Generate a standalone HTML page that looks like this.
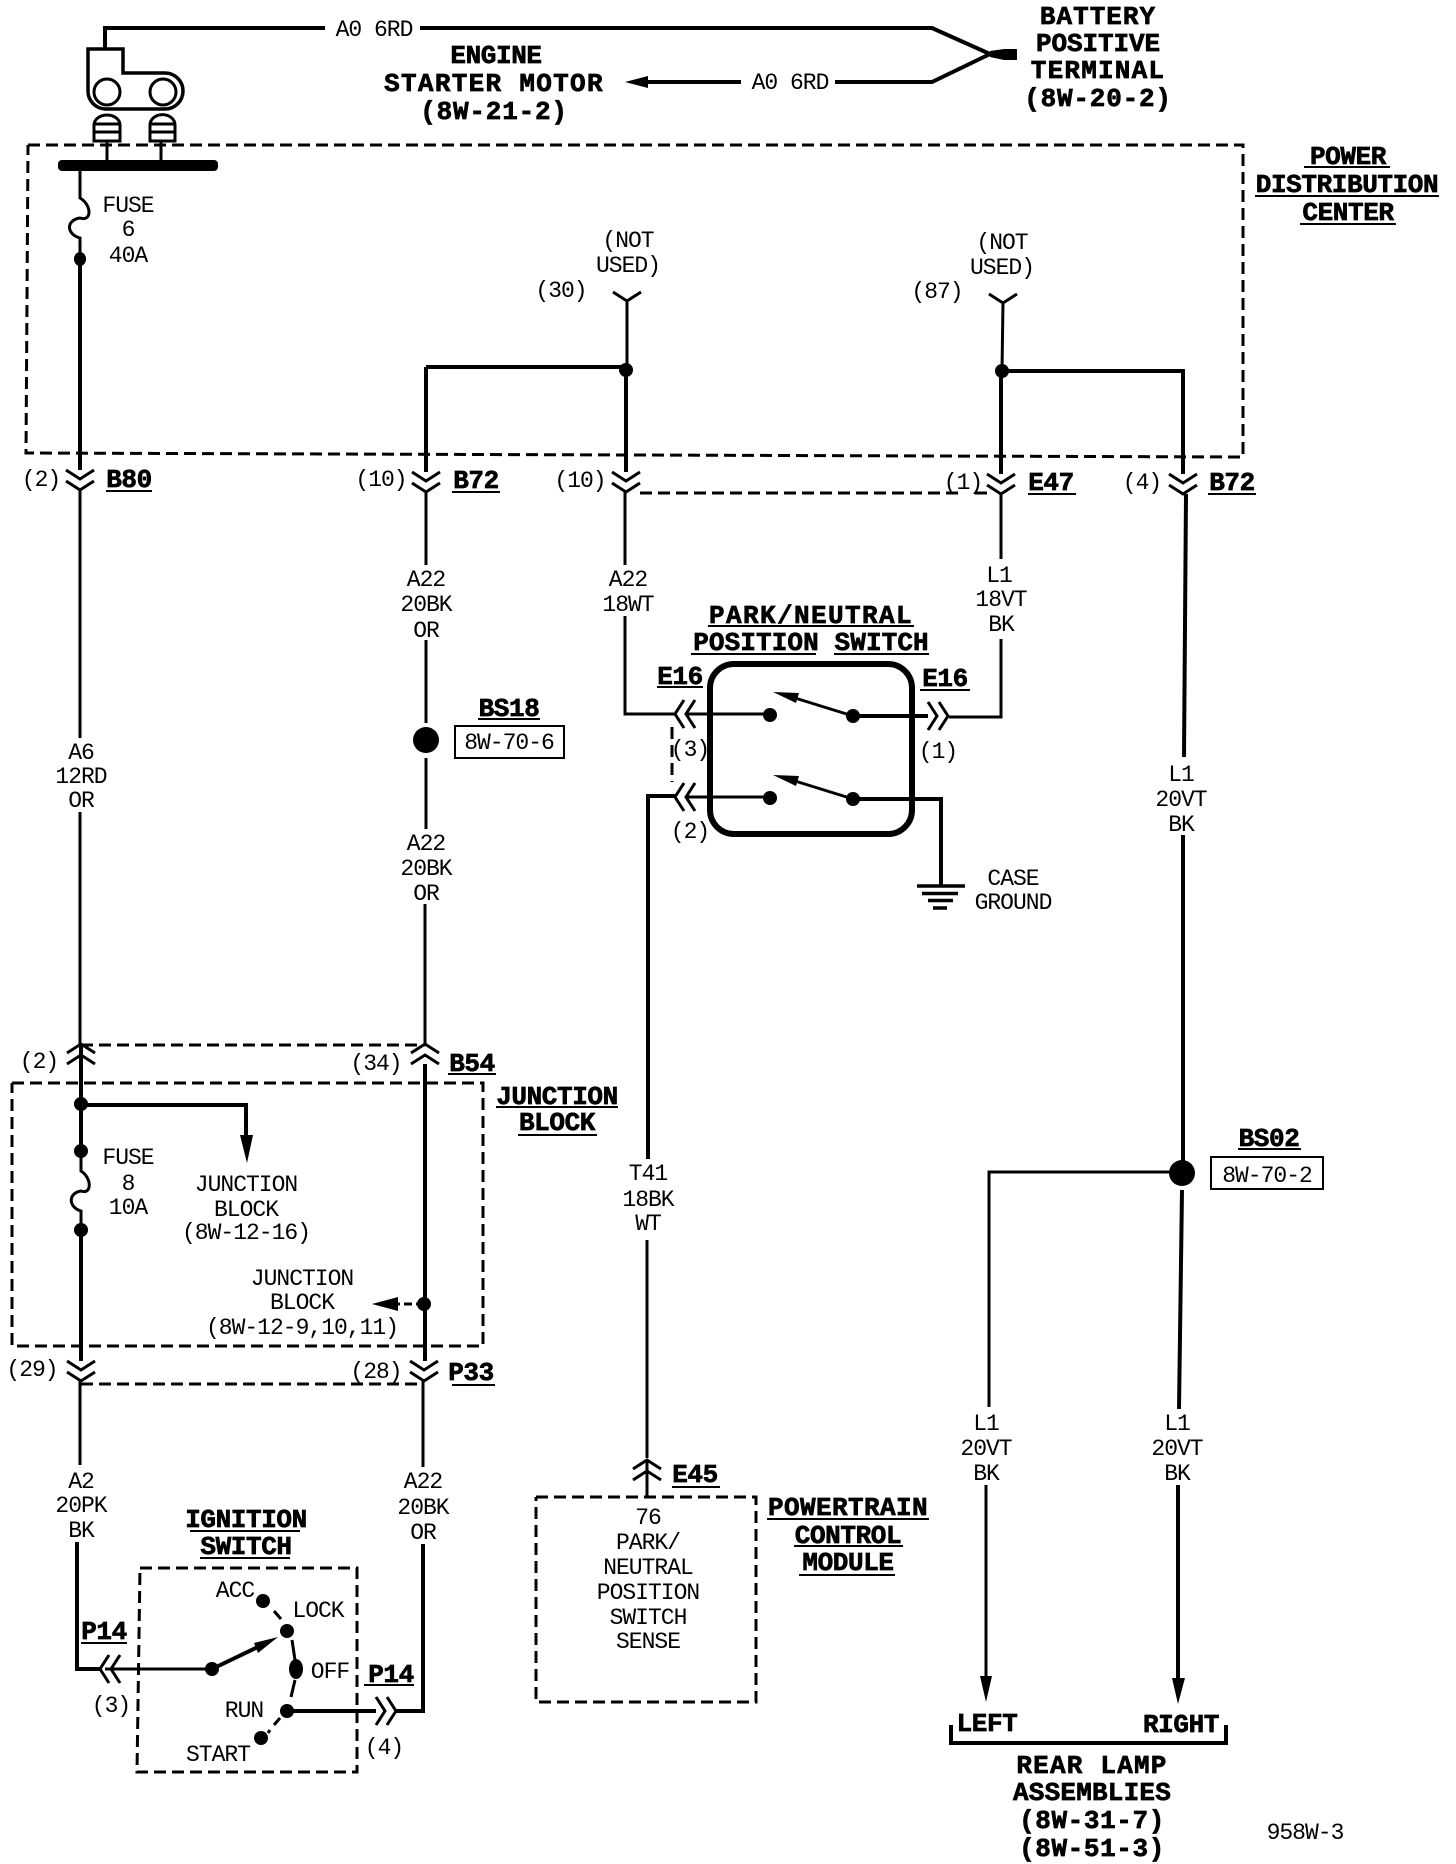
<!DOCTYPE html>
<html><head><meta charset="utf-8"><style>
html,body{margin:0;padding:0;background:#fff}
svg{display:block}
text{font-family:"Liberation Mono",monospace;fill:#000;text-anchor:middle}
.r{font-size:23px;letter-spacing:-1px}
.b{font-size:26px;font-weight:bold;letter-spacing:-.4px;stroke:#000;stroke-width:.7}
.w{fill:none;stroke:#000;stroke-width:3}
.t{fill:none;stroke:#000;stroke-width:4}
.d{fill:none;stroke:#000;stroke-width:3;stroke-dasharray:12 6}
.u{stroke:#000;stroke-width:2;fill:none}
</style></head><body>
<svg width="1456" height="1864" viewBox="0 0 1456 1864" xmlns="http://www.w3.org/2000/svg">
<defs>
<path id="c" d="M-14 0L0 9L14 0M-14 11L0 20L14 11" fill="none" stroke="#000" stroke-width="3"/>
<path id="y" d="M-14 -8L0 1L14 -8" fill="none" stroke="#000" stroke-width="3"/>
</defs>
<rect width="1456" height="1864" fill="#fff"/>

<!-- top wires -->
<path class="t" d="M105 49V28H325M420 28H932L990 54M835 82H932L990 54"/>
<path d="M990 51L1004 49H1017V60H1004L990 57Z"/>
<path class="t" d="M741 82H640"/>
<path d="M625 82L648 76V88Z"/>
<!-- starter -->
<path class="w" d="M88 49H123V73H165A18 18 0 0 1 165 109H105A18 18 0 0 1 88 92Z" style="stroke-width:3.5"/>
<ellipse class="w" cx="107" cy="92" rx="13" ry="13"/>
<ellipse class="w" cx="163" cy="92" rx="13" ry="13"/>
<path class="w" d="M94 141V125A13 10 0 0 1 120 125V141ZM94 124H120M94 132H120"/>
<path class="w" d="M150 141V125A12 10 0 0 1 175 125V141ZM150 124H175M150 132H175"/>
<path class="w" d="M107 141V162M161 141V162"/>
<rect x="58" y="160" width="160" height="11" rx="4"/>

<!-- PDC -->
<path class="d" d="M28 145H1243V457L26 453L28 145"/>
<!-- fuse 6 -->
<path class="w" d="M80 170V198C92 205 92 222 80 218C66 220 66 234 80 238V259"/>
<ellipse cx="80" cy="259" rx="6" ry="7"/>
<path class="t" d="M80 259V470"/>
<use href="#c" x="80" y="470"/>
<path class="w" d="M80 490V738M80 812V1045"/>
<use href="#c" x="0" y="0" transform="translate(81 1064) rotate(180)"/>
<path class="t" d="M81 1045V1151"/>
<circle cx="81" cy="1104" r="7"/>
<path class="t" d="M81 1105H246V1140"/>
<path d="M240 1135H253L247 1163Z"/>
<circle cx="81" cy="1151" r="7"/>
<path class="w" d="M81 1151V1171C92 1178 92 1195 81 1191C68 1193 68 1207 81 1211V1230"/>
<circle cx="81" cy="1230" r="7"/>
<path class="t" d="M81 1230V1361"/>
<use href="#c" x="81" y="1361"/>
<path class="w" d="M80 1381V1465"/>
<path class="t" d="M77 1542V1669H102"/>

<!-- dashes between connectors -->
<path class="d" d="M81 1045H425"/>
<path class="d" d="M81 1384H424"/>
<path class="d" d="M640 493H958M975 493H988"/>
<path class="d" d="M672 727V782"/>

<!-- JB box -->
<path class="d" d="M12 1083H483V1346H12V1083"/>

<!-- A22 wire -->
<path class="t" d="M426 367V472"/>
<path class="t" d="M426 367H626"/>
<circle cx="626" cy="370" r="7"/>
<use href="#c" x="426" y="472"/>
<path class="w" d="M426 492V565M426 640V723M426 758V829M425 904V1045"/>
<circle cx="426" cy="740" r="13"/>
<use href="#c" transform="translate(425 1064) rotate(180)"/>
<path class="t" d="M425 1064V1361"/>
<circle cx="424" cy="1304" r="7"/>
<path class="w" d="M424 1304H395" stroke-dasharray="8 4"/>
<path d="M372 1304L398 1297V1311Z"/>
<use href="#c" x="424" y="1361"/>
<path class="w" d="M423 1381V1467"/>
<path class="t" d="M423 1544V1711H396"/>

<!-- 30 -->
<path class="w" d="M627 300V370"/>
<use href="#y" x="627" y="300"/>
<path class="t" d="M626 370V472"/>
<use href="#c" x="626" y="472"/>
<path class="w" d="M625 492V565M625 616V714H675"/>

<!-- 87 -->
<path class="w" d="M1003 302L1002 371"/>
<use href="#y" x="1003" y="302"/>
<circle cx="1002" cy="371" r="7"/>
<path class="t" d="M1002 371H1183V474"/>
<path class="t" d="M1001 371V474"/>
<use href="#c" x="1001" y="474"/>
<use href="#c" x="1183" y="474"/>
<path class="w" d="M1001 494V559M1001 639V717H949"/>
<path class="t" d="M1186 494L1184 757M1183 835V1173M1182 1190L1179 1409M1178 1485V1680"/>
<path d="M1172 1678H1185L1178 1704Z"/>
<circle cx="1182" cy="1173" r="13"/>
<path class="w" d="M1170 1172H989V1407M986 1485V1680"/>
<path d="M980 1676H992L986 1702Z"/>

<!-- switch -->
<rect x="710" y="664" width="202" height="170" rx="24" fill="none" stroke="#000" stroke-width="6"/>
<use href="#c" transform="translate(695 714) rotate(90)"/>
<use href="#c" transform="translate(695 797) rotate(90)"/>
<use href="#c" transform="translate(928 716) rotate(-90)"/>
<path class="w" d="M686 714H770M686 797H770"/>
<circle cx="770" cy="715" r="7"/><circle cx="853" cy="716" r="7"/>
<circle cx="770" cy="798" r="7"/><circle cx="853" cy="799" r="7"/>
<path class="w" d="M853 716L795 698M853 799L795 781"/>
<path d="M773 692L799 693L796 703ZM773 775L799 776L796 786Z"/>
<path class="t" d="M853 716H928M853 799H941V886"/>
<path class="t" d="M648 1159V796H676"/>
<path style="stroke-width:3.5" class="w" d="M917 886H965M922 893.5H958M928 900.5H953M933 908H947"/>
<path class="w" d="M647 1240V1458M647 1461V1497"/>
<use href="#c" transform="translate(647 1480) rotate(180)"/>

<!-- labeled boxes -->
<rect class="u" x="455" y="726" width="109" height="32"/>
<rect class="u" x="1211" y="1157" width="112" height="32"/>

<!-- PCM -->
<path class="d" d="M536 1497H756V1702H536V1497"/>

<!-- ignition -->
<path class="d" d="M140 1568H357V1772H137L140 1568"/>
<use href="#c" transform="translate(120 1669) rotate(90)"/>
<path class="w" d="M105 1669H212"/>
<path class="t" d="M212 1669L262 1645"/>
<path d="M278 1637L254 1643L258 1653Z"/>
<circle cx="212" cy="1669" r="7"/>
<circle cx="263" cy="1601" r="7"/><circle cx="287" cy="1631" r="7"/>
<ellipse cx="296" cy="1669" rx="7" ry="10"/><circle cx="287" cy="1711" r="7"/>
<circle cx="261" cy="1738" r="7"/>
<path class="w" d="M274 1611L281 1619M292 1640L295 1660M295 1680L291 1697M280 1718L274 1725M270 1730L268 1733"/>
<path class="t" d="M287 1711H376"/>
<use href="#c" transform="translate(376 1711) rotate(-90)"/>

<!-- bracket -->
<path class="t" d="M951 1725V1743H1226V1725"/>

<!-- underlines -->
<path class="u" d="M106 491H152M452 492H500M1028 494H1076M1208 494H1256M1304 167H1390M1255 196H1439M1300 224H1396M478 719H540"/>
<path class="u" d="M448 1074H496M496 1107H618M518 1135H597M452 1385H495M190 1531H300M200 1558H290M81 1643H127M364 1685H414"/>
<path class="u" d="M672 1487H720M767 1519H929M794 1546H903M799 1575H895M708 626H914M691 654H816M834 654H929M657 687H703M920 690H970M1238 1149H1301"/>

<!-- bold labels -->
<g transform="translate(0 -1)">
<text class="b" x="1098" y="25" style="letter-spacing:1px">BATTERY</text>
<text class="b" x="1098" y="52" style="letter-spacing:-.1px">POSITIVE</text>
<text class="b" x="1098" y="79" style="letter-spacing:1.2px">TERMINAL</text>
<text class="b" x="1098" y="107" style="letter-spacing:.8px">(8W-20-2)</text>
<text class="b" x="496" y="64">ENGINE</text>
<text class="b" x="494" y="92" style="letter-spacing:1.3px">STARTER MOTOR</text>
<text class="b" x="494" y="120" style="letter-spacing:.8px">(8W-21-2)</text>
<text class="b" x="1348" y="165">POWER</text>
<text class="b" x="1347" y="193">DISTRIBUTION</text>
<text class="b" x="1348" y="221">CENTER</text>
<text class="b" x="129" y="488">B80</text>
<text class="b" x="476" y="489">B72</text>
<text class="b" x="1051" y="491">E47</text>
<text class="b" x="1232" y="491">B72</text>
<text class="b" x="811" y="624" style="letter-spacing:1.4px">PARK/NEUTRAL</text>
<text class="b" x="811" y="651" style="letter-spacing:.1px">POSITION  SWITCH</text>
<text class="b" x="680" y="685">E16</text>
<text class="b" x="945" y="687">E16</text>
<text class="b" x="509" y="717">BS18</text>
<text class="b" x="472" y="1072">B54</text>
<text class="b" x="557" y="1105">JUNCTION</text>
<text class="b" x="557" y="1131">BLOCK</text>
<text class="b" x="1269" y="1147">BS02</text>
<text class="b" x="471" y="1381">P33</text>
<text class="b" x="695" y="1483">E45</text>
<text class="b" x="848" y="1516" style="letter-spacing:.4px">POWERTRAIN</text>
<text class="b" x="848" y="1544">CONTROL</text>
<text class="b" x="848" y="1571">MODULE</text>
<text class="b" x="246" y="1528">IGNITION</text>
<text class="b" x="246" y="1555">SWITCH</text>
<text class="b" x="104" y="1640">P14</text>
<text class="b" x="391" y="1683">P14</text>
<text class="b" x="987" y="1732">LEFT</text>
<text class="b" x="1181" y="1733">RIGHT</text>
<text class="b" x="1092" y="1774" style="letter-spacing:1.2px">REAR LAMP</text>
<text class="b" x="1092" y="1801" style="letter-spacing:.2px">ASSEMBLIES</text>
<text class="b" x="1092" y="1829" style="letter-spacing:.6px">(8W-31-7)</text>
<text class="b" x="1092" y="1857" style="letter-spacing:.6px">(8W-51-3)</text>
</g>

<!-- regular labels -->
<g transform="translate(0 -1)">
<text class="r" x="374" y="37">A0 6RD</text>
<text class="r" x="790" y="90">A0 6RD</text>
<text class="r" x="128" y="213">FUSE</text>
<text class="r" x="128" y="237">6</text>
<text class="r" x="128" y="263">40A</text>
<text class="r" x="628" y="248">(NOT</text>
<text class="r" x="628" y="273">USED)</text>
<text class="r" x="1002" y="250">(NOT</text>
<text class="r" x="1002" y="275">USED)</text>
<text class="r" x="561" y="298">(30)</text>
<text class="r" x="937" y="299">(87)</text>
<text class="r" x="41" y="487">(2)</text>
<text class="r" x="381" y="487">(10)</text>
<text class="r" x="580" y="488">(10)</text>
<text class="r" x="963" y="490">(1)</text>
<text class="r" x="1142" y="490">(4)</text>
<text class="r" x="426" y="587">A22</text>
<text class="r" x="426" y="612">20BK</text>
<text class="r" x="426" y="638">OR</text>
<text class="r" x="628" y="587">A22</text>
<text class="r" x="628" y="612">18WT</text>
<text class="r" x="999" y="583">L1</text>
<text class="r" x="1001" y="607">18VT</text>
<text class="r" x="1001" y="632">BK</text>
<text class="r" x="690" y="757">(3)</text>
<text class="r" x="690" y="839">(2)</text>
<text class="r" x="938" y="759">(1)</text>
<text class="r" x="1013" y="886">CASE</text>
<text class="r" x="1013" y="910">GROUND</text>
<text class="r" x="81" y="760">A6</text>
<text class="r" x="81" y="784">12RD</text>
<text class="r" x="81" y="808">OR</text>
<text class="r" x="509" y="750">8W-70-6</text>
<text class="r" x="426" y="851">A22</text>
<text class="r" x="426" y="876">20BK</text>
<text class="r" x="426" y="901">OR</text>
<text class="r" x="1181" y="782">L1</text>
<text class="r" x="1181" y="807">20VT</text>
<text class="r" x="1181" y="832">BK</text>
<text class="r" x="39" y="1069">(2)</text>
<text class="r" x="376" y="1071">(34)</text>
<text class="r" x="128" y="1165">FUSE</text>
<text class="r" x="128" y="1191">8</text>
<text class="r" x="128" y="1215">10A</text>
<text class="r" x="246" y="1192">JUNCTION</text>
<text class="r" x="246" y="1217">BLOCK</text>
<text class="r" x="246" y="1240">(8W-12-16)</text>
<text class="r" x="302" y="1286">JUNCTION</text>
<text class="r" x="302" y="1310">BLOCK</text>
<text class="r" x="302" y="1335">(8W-12-9,10,11)</text>
<text class="r" x="648" y="1181">T41</text>
<text class="r" x="648" y="1207">18BK</text>
<text class="r" x="648" y="1231">WT</text>
<text class="r" x="1267" y="1183">8W-70-2</text>
<text class="r" x="32" y="1377">(29)</text>
<text class="r" x="376" y="1379">(28)</text>
<text class="r" x="81" y="1489">A2</text>
<text class="r" x="81" y="1513">20PK</text>
<text class="r" x="81" y="1538">BK</text>
<text class="r" x="423" y="1489">A22</text>
<text class="r" x="423" y="1515">20BK</text>
<text class="r" x="423" y="1540">OR</text>
<text class="r" x="986" y="1431">L1</text>
<text class="r" x="986" y="1456">20VT</text>
<text class="r" x="986" y="1481">BK</text>
<text class="r" x="1177" y="1431">L1</text>
<text class="r" x="1177" y="1456">20VT</text>
<text class="r" x="1177" y="1481">BK</text>
<text class="r" x="648" y="1525">76</text>
<text class="r" x="648" y="1550">PARK/</text>
<text class="r" x="648" y="1575">NEUTRAL</text>
<text class="r" x="648" y="1600">POSITION</text>
<text class="r" x="648" y="1625">SWITCH</text>
<text class="r" x="648" y="1649">SENSE</text>
<text class="r" x="235" y="1598">ACC</text>
<text class="r" x="318" y="1618">LOCK</text>
<text class="r" x="330" y="1679">OFF</text>
<text class="r" x="244" y="1718">RUN</text>
<text class="r" x="218" y="1762">START</text>
<text class="r" x="111" y="1713">(3)</text>
<text class="r" x="384" y="1755">(4)</text>
<text class="r" x="1305" y="1840">958W-3</text>
</g>
</svg>
</body></html>
